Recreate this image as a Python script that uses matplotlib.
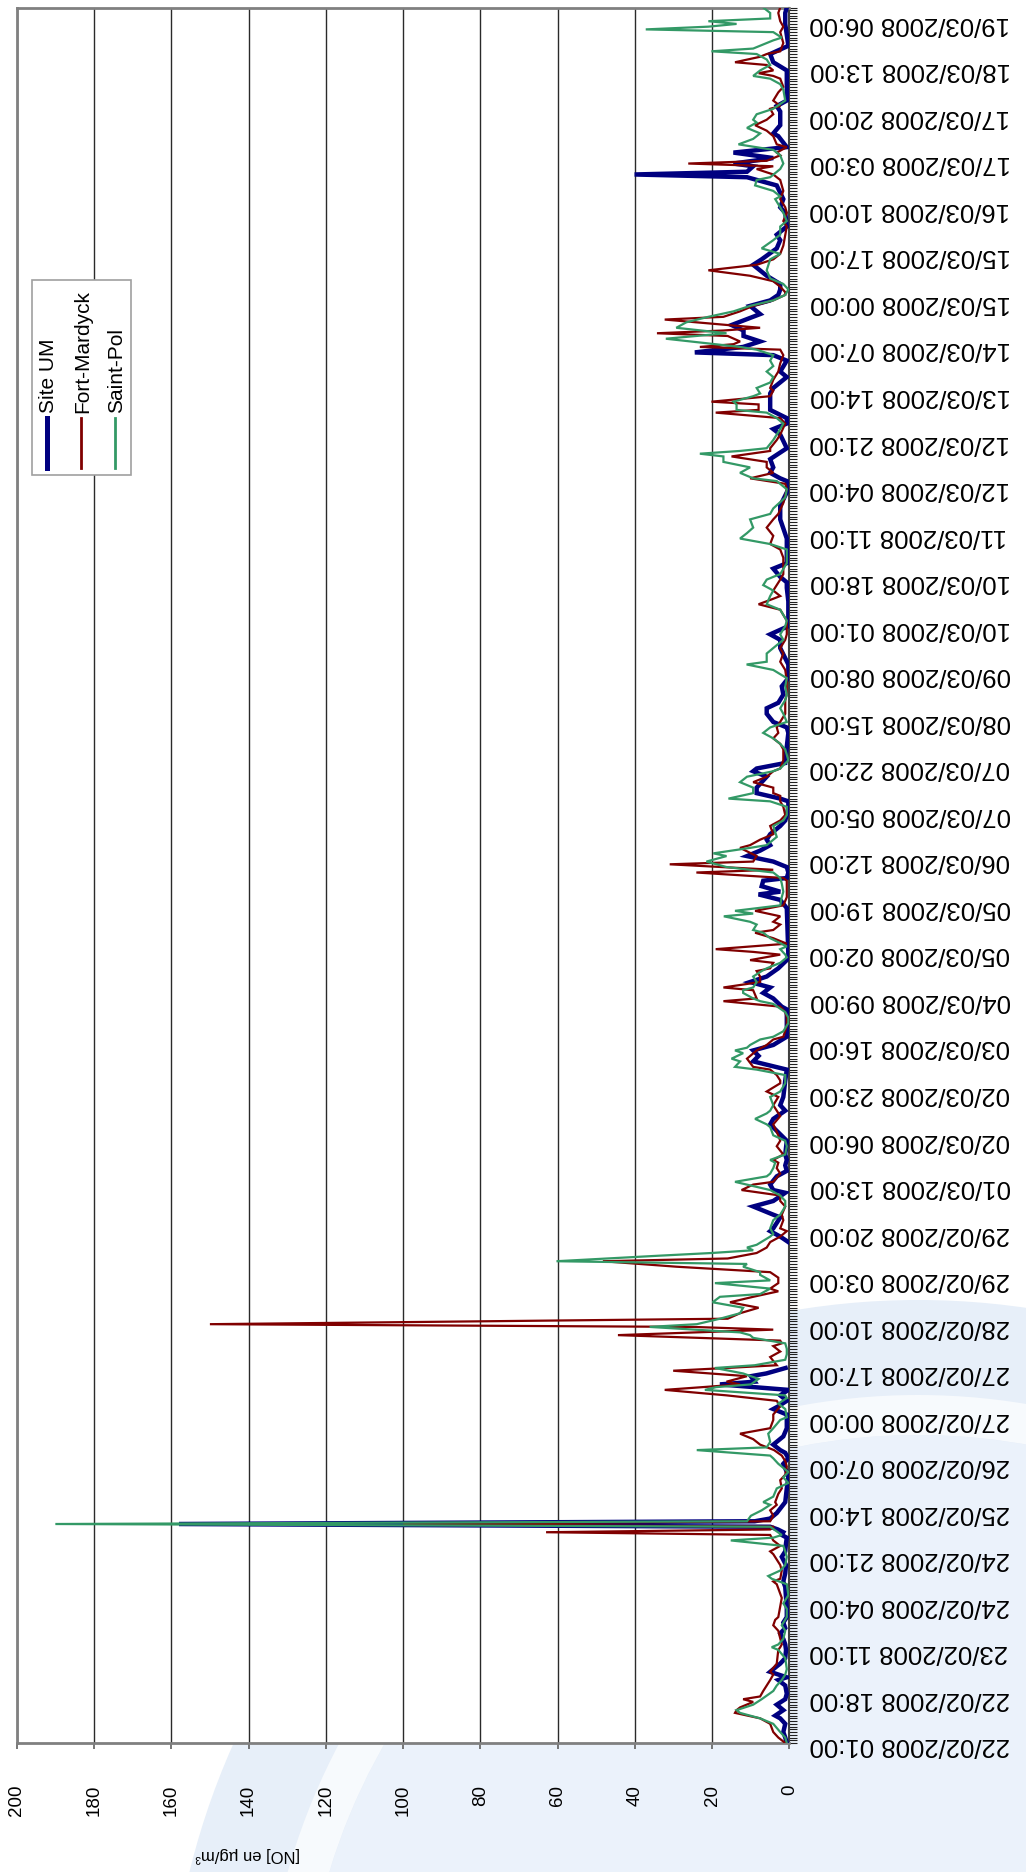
import matplotlib
matplotlib.use("Agg")
import matplotlib.pyplot as plt
import numpy as np
from matplotlib.lines import Line2D
from matplotlib.patches import Circle, Rectangle, Wedge
from matplotlib.ticker import MultipleLocator

plt.rcParams["font.family"] = ["Liberation Sans", "DejaVu Sans"]

nan = np.nan

# hourly index 0 = 22/02/2008 01:00, one label every 17 hours
LABEL_STEP = 17
LAST_HOUR = 634
DATE_LABELS = [
    "22/02/2008 01:00", "22/02/2008 18:00", "23/02/2008 11:00", "24/02/2008 04:00",
    "24/02/2008 21:00", "25/02/2008 14:00", "26/02/2008 07:00", "27/02/2008 00:00",
    "27/02/2008 17:00", "28/02/2008 10:00", "29/02/2008 03:00", "29/02/2008 20:00",
    "01/03/2008 13:00", "02/03/2008 06:00", "02/03/2008 23:00", "03/03/2008 16:00",
    "04/03/2008 09:00", "05/03/2008 02:00", "05/03/2008 19:00", "06/03/2008 12:00",
    "07/03/2008 05:00", "07/03/2008 22:00", "08/03/2008 15:00", "09/03/2008 08:00",
    "10/03/2008 01:00", "10/03/2008 18:00", "11/03/2008 11:00", "12/03/2008 04:00",
    "12/03/2008 21:00", "13/03/2008 14:00", "14/03/2008 07:00", "15/03/2008 00:00",
    "15/03/2008 17:00", "16/03/2008 10:00", "17/03/2008 03:00", "17/03/2008 20:00",
    "18/03/2008 13:00", "19/03/2008 06:00",
]
NO_TICKS = list(range(0, 201, 20))

# Site UM
um_hours = [
    0, 2, 4, 7, 9, 10, 12, 14, 16, 18, 21, 23, 24, 26, 28, 29, 31, 34, 36, 38,
    40, 42, 44, 46, 49, 53, 57, 59, 62, 65, 68, 70, 73, 75, 76, 77, 78, 79, 80, 81,
    82, 84, 88, 93, 97, 99, 102, 104, 106, 107, 109, 112, 115, 120, 122, 123, 125, 127, 129, 131,
    132, 134, 135, 137, 160, 183, 185, 187, 188, 192, 193, 196, 198, 201, 202, 204, 207, 209, 211, 213,
    215, 220, 226, 228, 231, 233, 236, 242, 246, 249, 251, 253, 255, 258, 263, 268, 269, 272, 274, 276,
    278, 280, 283, 286, 288, 305, 308, 310, 311, 313, 315, 316, 318, 320, 322, 324, 326, 328, 330, 332,
    335, 337, 339, 342, 344, 345, 347, 349, 353, 355, 356, 358, 364, 369, 371, 373, 376, 378, 380, 383,
    386, 389, 394, 400, 403, 405, 408, 412, 417, 422, 424, 426, 429, 431, 440, 447, 452, 458, 461, 462,
    464, 466, 469, 473, 478, 480, 482, 484, 487, 493, 495, 499, 501, 505, 507, 508, 510, 512, 514, 516,
    518, 522, 525, 527, 529, 531, 533, 536, 540, 542, 546, 549, 551, 554, 559, 561, 564, 569, 572, 573,
    574, 576, 577, 579, 581, 583, 587, 588, 591, 596, 598, 600, 611, 614, 617, 620, 624, 628, 632, 634,
]
um_values = [
    0.7, 1.1, 1.6, 1.1, 2.4, 3.7, 1.6, 3.3, 1.1, 0.7, 1.1, 2.9, 0.7, 5, 3.3, 2.4, 1.1, 0.9, 1.1, 1.6,
    2.4, 1.1, 1.6, 0.7, 0.7, 0.9, 1.1, 1.6, 1.1, 0.9, 2, 1.1, 0.9, 0.7, 2, 1.6, 3, 5, 158, 9,
    5, 3.3, 1.1, 0.7, 0.3, 0.7, 1.6, 0.3, 1.1, 2.4, 4.2, 1.6, 0.7, 0.7, 4.2, 2.9, 0.7, 2.4, 0.3, 18,
    9, 10, 6, 1, nan, 0.3, 2.4, 5, 4.2, 2.4, 4.2, 9.4, 4.2, 1.1, 4.2, 5, 3.3, 0.7, 1.1, 0.7,
    1.1, 0.7, 5, 4.2, 1.1, 2.4, 1.6, 1.1, 0.7, 9.4, 8, 9.4, 4.2, 0.7, 0.7, 0.7, 2, 4.2, 6.8, 5,
    10.2, 5.9, 2.9, 0.7, 0.3, 0.7, 2.4, 8, 2.4, 7.2, 6.8, 0.7, 0.3, 0.7, 4.2, 11, 7.6, 5, 5.9, 5,
    2.4, 1.1, 0.7, 0.3, 0.3, 2.4, 8.5, 8.5, 5.9, 9.4, 8.5, 1.1, 0.7, 0.3, 0.7, 4.2, 5.9, 5.9, 2.9, 1.6,
    2, 0.3, 0.3, 2.4, 2.4, 5, 0.3, 0.3, 0.3, 0.7, 0.7, 2.4, 4.2, 0.7, 0.7, 2.4, 2.4, 0.3, 0.7, 2.4,
    5, 4.2, 5, 0.7, 2.4, 4.2, 0.7, 0.7, 5, 5, 4.2, 0.7, 2.4, 0.7, 4.2, 24.5, 12, 7.6, 11.9, 11.9,
    15, 7.6, 10.2, 5, 2.9, 2.4, 2.4, 5.9, 9.4, 7.2, 3.3, 2.4, 3.3, 0.7, 1.1, 2.4, 1.6, 3.3, 11, 40.1,
    11, 9.4, 14.5, 4.2, 14.5, 0.7, 2.9, 4.2, 2.4, 2.4, 3.3, 0.7, 0.7, 4.2, 5, 0.3, 0.7, 1.1, 1.1, 0.7,
]

# Fort-Mardyck
fm_hours = [
    0, 2, 4, 7, 9, 11, 12, 13, 15, 16, 17, 19, 21, 23, 25, 26, 29, 34, 35, 36,
    41, 43, 45, 46, 50, 53, 58, 59, 60, 63, 65, 67, 69, 70, 72, 74, 76, 77, 78, 79,
    80, 81, 83, 85, 87, 88, 91, 93, 96, 98, 101, 103, 105, 107, 109, 111, 113, 115, 118, 120, 123,
    125, 127, 129, 131, 132, 134, 136, 137, 138, 141, 143, 145, 146, 147, 149, 151, 152, 153, 155, 157,
    159, 161, 163, 165, 166, 168, 170, 172, 174, 176, 177, 179, 181, 183, 185, 187, 188, 191, 193, 196,
    198, 200, 202, 204, 205, 208, 210, 212, 213, 215, 218, 220, 222, 226, 229, 231, 233, 236, 238, 241,
    242, 244, 246, 247, 250, 253, 255, 257, 258, 262, 265, 267, 269, 271, 272, 275, 276, 278, 280, 282,
    283, 285, 286, 288, 289, 290, 292, 294, 296, 297, 299, 300, 302, 304, 306, 309, 313, 315, 316, 318,
    319, 321, 322, 324, 327, 328, 330, 332, 335, 337, 339, 342, 344, 346, 347, 349, 351, 353, 355, 356,
    359, 363, 365, 367, 369, 371, 374, 376, 378, 381, 383, 388, 392, 395, 398, 400, 403, 405, 408, 410,
    414, 416, 418, 419, 421, 423, 425, 427, 433, 436, 438, 441, 444, 447, 449, 453, 458, 460, 462, 464,
    466, 468, 470, 472, 473, 476, 478, 482, 484, 486, 487, 489, 490, 492, 494, 495, 498, 501, 504, 507,
    509, 510, 511, 512, 514, 515, 516, 517, 518, 520, 521, 523, 525, 527, 529, 530, 532, 534, 536, 538,
    540, 542, 544, 547, 551, 554, 556, 559, 561, 564, 567, 571, 573, 575, 576, 577, 578, 580, 581, 583,
    584, 587, 589, 591, 593, 595, 597, 598, 600, 603, 605, 608, 609, 610, 611, 613, 614, 616, 617, 618,
    621, 625, 627, 629, 632, 634,
]
fm_values = [
    1.1, 2.9, 4.2, 5, 7.6, 14.1, 13.7, 12.8, 9.4, 12, 7.6, 6.8, 5.9, 5, 4.2, 5, 3.3, 2.9, 2.4, 2,
    2.9, 4.2, 3.7, 2.9, 2.4, 2, 3.3, 4.2, 2.4, 2, 2.4, 3.3, 4.2, 5, 2.4, 4.2, 5, 63, 5, 4,
    100, 5, 4.2, 5, 3.3, 3.7, 2.9, 2, 2.4, 1.1, 0.7, 1.1, 2, 4, 7.6, 9.4, 12.8, 5, 4.2, 4.2, 2.4,
    3.3, 16.3, 32.3, 12.8, 16.3, 11, 30.1, 16.3, 3.3, 5, 2.4, 4.2, 2, 2.4, 44.4, 4.2, 24.9, 150, 16, 12.8,
    8, 15.4, 9.4, 2.9, 5, 2.9, 2.9, 5, 29.3, 48.3, 16, 8.5, 5.9, 5, 2.4, 0.7, 2.4, 1.6, 2, 1.1,
    2.4, 2.4, 12.4, 9.4, 4.2, 2.4, 3.3, 2.9, 4.2, 1.6, 3.3, 2.4, 2.9, 4.2, 2.4, 3.3, 4.2, 2.9, 5.9, 2.4,
    2.4, 3.3, 5, 9.4, 11, 8.5, 5.9, 4.2, 1.6, 0.7, 0.7, 1.1, 2.4, 17.1, 8.5, 9.4, 17.1, 7.6, 7.6, 8.5,
    5, 4.2, 10.2, 2.4, 9.4, 19.1, 0.7, 4.2, 8.9, 4.2, 2.4, 4.2, 2.4, 8.9, 1.6, 0.7, 0.7, 0.7, 1.6, 24.1,
    4.2, 31, 9.4, 8.5, 12.8, 10.2, 7.6, 4.2, 5, 2.4, 1.1, 1.6, 2.4, 2.4, 4.2, 4.2, 9.4, 5.9, 4.2, 2.4,
    1.6, 1.6, 2.4, 4.2, 2.9, 3.3, 2, 1.1, 1.1, 1.1, 0.7, 0.7, 1.1, 2.4, 1.6, 2.4, 1.1, 0.7, 0.7, 0.7,
    2.4, 8, 4.2, 2.4, 4.2, 3.3, 2.4, 1.6, 1.6, 2.4, 5, 4.2, 5.9, 4.2, 2.9, 1.6, 0.7, 1.1, 10.2, 4.2,
    5.9, 5.9, 15, 5, 5, 3.3, 2.4, 1.1, 2.4, 19.1, 8, 8, 20.2, 5, 4.2, 5, 4.2, 2.9, 2.4, 1.6,
    2.4, 23.2, 14.5, 12.8, 16, 34.3, 17.1, 7.6, 16, 32.3, 17.1, 12.8, 9.4, 4.2, 1.1, 1.1, 2.4, 4.2, 10.2, 21,
    8.5, 4.2, 2.4, 1.6, 1.1, 0.7, 1.6, 0.7, 1.1, 2.4, 1.6, 2.4, 4.2, 8.5, 4.2, 26.2, 5.9, 2.4, 3.3, 0.7,
    3.3, 4.2, 5.9, 8.9, 5.9, 4.2, 5, 2.4, 4.2, 2.9, 1.6, 2.4, 4.2, 8, 4.2, 5.9, 14.1, 7.6, 5.9, 2.4,
    1.6, 2.4, 1.6, 2.4, 2.9, 2.4,
]

# Saint-Pol
sp_hours = [
    0, 2, 4, 7, 9, 11, 12, 14, 16, 19, 21, 23, 25, 27, 31, 34, 35, 36, 38, 41,
    43, 46, 49, 51, 54, 58, 60, 61, 63, 65, 68, 70, 72, 74, 75, 76, 77, 78, 79, 80,
    81, 83, 85, 87, 88, 90, 93, 95, 97, 99, 102, 104, 105, 107, 108, 110, 113, 115, 118, 119,
    122, 124, 126, 127, 129, 130, 131, 133, 135, 137, 138, 140, 142, 144, 146, 148, 149, 150, 152, 153,
    155, 157, 159, 161, 163, 164, 166, 168, 169, 171, 172, 174, 175, 176, 178, 179, 180, 181, 182, 185,
    186, 188, 191, 193, 196, 198, 200, 202, 205, 207, 208, 210, 212, 213, 215, 218, 220, 222, 225, 226,
    228, 230, 231, 233, 236, 238, 241, 243, 244, 246, 247, 249, 250, 252, 253, 254, 255, 257, 258, 260,
    263, 265, 267, 270, 271, 272, 274, 275, 276, 278, 280, 282, 283, 285, 287, 288, 290, 291, 294, 296,
    297, 299, 300, 302, 303, 304, 306, 309, 311, 314, 316, 318, 320, 322, 324, 325, 327, 328, 331, 335,
    337, 339, 342, 344, 345, 347, 349, 351, 353, 355, 356, 359, 363, 365, 367, 369, 371, 373, 376, 378,
    381, 383, 386, 389, 392, 394, 395, 398, 400, 403, 405, 408, 410, 414, 416, 419, 421, 423, 425, 426,
    427, 431, 436, 438, 440, 442, 444, 447, 449, 451, 455, 458, 461, 462, 464, 466, 468, 470, 471, 472,
    473, 476, 480, 482, 484, 486, 487, 489, 490, 492, 493, 495, 497, 499, 501, 503, 505, 507, 509, 510,
    513, 515, 517, 519, 521, 523, 525, 527, 529, 531, 533, 535, 538, 542, 544, 546, 549, 551, 554, 556,
    559, 561, 564, 565, 567, 569, 571, 572, 575, 577, 580, 582, 584, 586, 588, 590, 592, 593, 595, 597,
    600, 604, 606, 608, 609, 611, 613, 615, 617, 618, 619, 622, 623, 625, 626, 627, 628, 629, 630, 632,
    634,
]
sp_values = [
    0.7, 1.1, 2.4, 4.2, 7.6, 12.8, 13.7, 9.4, 7.2, 4.2, 3.3, 2, 1.1, 0.7, 1.1, 2.9, 4.6, 2.9, 1.6, 1.1,
    2, 0.7, 0.7, 1.6, 0.3, 0.7, 4.6, 5.5, 2.4, 1.1, 0.7, 1.1, 1.6, 15.2, 4.2, 2, 3, 4, 5, 190,
    11, 10, 7.2, 5, 6.8, 4.2, 3.3, 0.3, 1.6, 0.3, 2.9, 4.2, 5, 24, 5.9, 5, 5.5, 4.2, 2.4, 0.7,
    1.1, 2.9, 0.7, 1.1, 21.9, 19, 10, 8, 12, 19.3, 9, 1.1, 0.7, 0.7, 1.1, 9.4, 10.2, 12.8, 36.2, 24,
    18, 12.8, 12, 19.9, 18, 7.6, 5, 19.3, 5, 7.6, 7.6, 12, 11, 60.3, 34, 20.2, 9.4, 11, 8.5, 5,
    4.2, 5, 4.2, 2.4, 1.1, 1.1, 2.4, 5, 14.1, 5.9, 5, 4.2, 3.7, 5, 1.1, 0.7, 1.1, 4.2, 5, 5.9,
    8.9, 5.9, 5, 4.2, 5, 2.4, 1.1, 1.1, 1.1, 8.5, 14.1, 12.8, 15, 12, 14.1, 11, 10.2, 7.6, 4.2, 1.6,
    0.3, 0.3, 1.1, 4.2, 7.6, 9.4, 12, 12, 9.4, 8.5, 9.4, 7.2, 5.9, 2.4, 0.7, 1.1, 2.4, 0.7, 5, 6.8,
    9.4, 8.5, 10.2, 17, 9.4, 14.1, 2.4, 2, 1.6, 2, 2.4, 4.2, 16.3, 21.5, 16.3, 19.7, 10.2, 5.9, 3.3, 4.2,
    1.6, 0.7, 0.7, 5, 15.8, 9.4, 9.4, 12.8, 11, 4.2, 2.4, 0.3, 1.1, 2.4, 4.2, 6.8, 5, 0.7, 1.6, 2.4,
    1.1, 0.7, 1.1, 0.7, 4.2, 11.1, 5.9, 5.9, 4.2, 1.6, 2.4, 1.1, 0.7, 2.4, 5.9, 5, 4.2, 6.8, 5.9, 4.2,
    2.4, 0.7, 0.7, 5, 12.8, 11, 9.4, 10.2, 5, 4.2, 1.1, 0.7, 3.3, 9.4, 12.8, 10.2, 17.1, 17.1, 23.2, 12.8,
    5.9, 4.2, 2.4, 1.6, 3.3, 5.9, 13.7, 13.7, 14.5, 9.4, 7.6, 8.5, 5, 4.2, 5.9, 4.2, 5, 4.2, 8.5, 12.8,
    32, 16.3, 29.3, 26.7, 21, 14.5, 10.2, 4.2, 1.1, 0.3, 1.6, 5, 5.9, 5, 2.4, 7.2, 4.2, 2.4, 2.4, 0.7,
    1.6, 2.4, 3.7, 2.4, 4.2, 8.9, 8.5, 5, 2.4, 1.6, 2.4, 4.2, 13.2, 9.4, 7.6, 11, 8.5, 9.4, 8.5, 4.2,
    1.1, 1.6, 2.4, 5, 9.4, 7.6, 5, 5.9, 8.5, 20.2, 9.4, 4.2, 2, 4.2, 37.2, 21, 13.7, 21, 5, 5,
    6.8,
]

SERIES = [
    ("Site UM", um_hours, um_values, "#000080", 3.2),
    ("Fort-Mardyck", fm_hours, fm_values, "#800000", 1.6),
    ("Saint-Pol", sp_hours, sp_values, "#339966", 1.6),
]

W, H = 1026, 1872


def fig_xy(px, py):
    return px / W, 1 - py / H


fig = plt.figure(figsize=(W / 100, H / 100), dpi=100)
fig.patch.set_facecolor("white")

# pale logo swoosh behind the chart (pixel coordinates, y down)
bg = fig.add_axes([0, 0, 1, 1], zorder=-5)
bg.set_xlim(0, W)
bg.set_ylim(H, 0)
bg.axis("off")
bg.add_patch(Circle((918, 2050), 750, facecolor="#e7eff9", edgecolor="none"))
bg.add_patch(Wedge((918, 2050), 655, 0, 360, width=40, facecolor="#f7fafd", edgecolor="none"))
bg.add_patch(Circle((918, 2050), 615, facecolor="#ebf2fb", edgecolor="none"))

ax = fig.add_axes([16.7 / W, (H - 1743) / H, (789.5 - 16.7) / W, (1743 - 7.5) / H])
ax.set_facecolor("white")

for name, hours, values, color, lw in SERIES:
    ax.plot(values, hours, color=color, lw=lw, solid_joinstyle="miter", label=name, zorder=3)

ax.set_xlim(200, 0)
ax.set_ylim(0, LAST_HOUR)

ax.set_xticks(NO_TICKS)
ax.set_xticklabels([str(v) for v in NO_TICKS], rotation=90, fontsize=13.5)
ax.xaxis.grid(True, color="#2a2a2a", lw=1.0)
ax.set_axisbelow(True)

ax.yaxis.tick_right()
ax.set_yticks([LABEL_STEP * k for k in range(len(DATE_LABELS))])
ax.set_yticklabels(DATE_LABELS, rotation=180, fontsize=18.5)
ax.yaxis.set_minor_locator(MultipleLocator(1))
ax.tick_params(axis="y", which="both", direction="out", length=6, width=0.8,
               color="#202020", pad=8.5, right=True, left=False)
ax.tick_params(axis="x", direction="out", length=4, width=1.2, color="#606060", pad=26)

for side in ("left", "top", "bottom"):
    ax.spines[side].set_color("#808080")
    ax.spines[side].set_linewidth(2)
ax.spines["right"].set_color("#404040")
ax.spines["right"].set_linewidth(1.5)

fig.text(*fig_xy(248, 1855), "[NO] en µg/m³", rotation=180, ha="center", va="center", fontsize=12)

# legend box drawn by hand so its entries can stand upright along the time axis
x0, y0 = fig_xy(31.7, 475)
x1, y1 = fig_xy(131, 280)
fig.add_artist(Rectangle((x0, y0), x1 - x0, y1 - y0, transform=fig.transFigure,
                         facecolor="white", edgecolor="#a0a0a0", lw=1.2, zorder=10))
for (name, _, _, color, lw), px in zip(SERIES, (46.7, 81, 115)):
    lx, ly0 = fig_xy(px, 468)
    _, ly1 = fig_xy(px, 418)
    fig.add_artist(Line2D([lx, lx], [ly0, ly1], transform=fig.transFigure,
                          color=color, lw=lw + 0.4, zorder=11))
    tx, ty = fig_xy(px + 1.5, 413)
    fig.text(tx, ty, name, rotation=90, rotation_mode="anchor", ha="left", va="center",
             fontsize=15, zorder=12)

fig.savefig("out.png", dpi=100)
